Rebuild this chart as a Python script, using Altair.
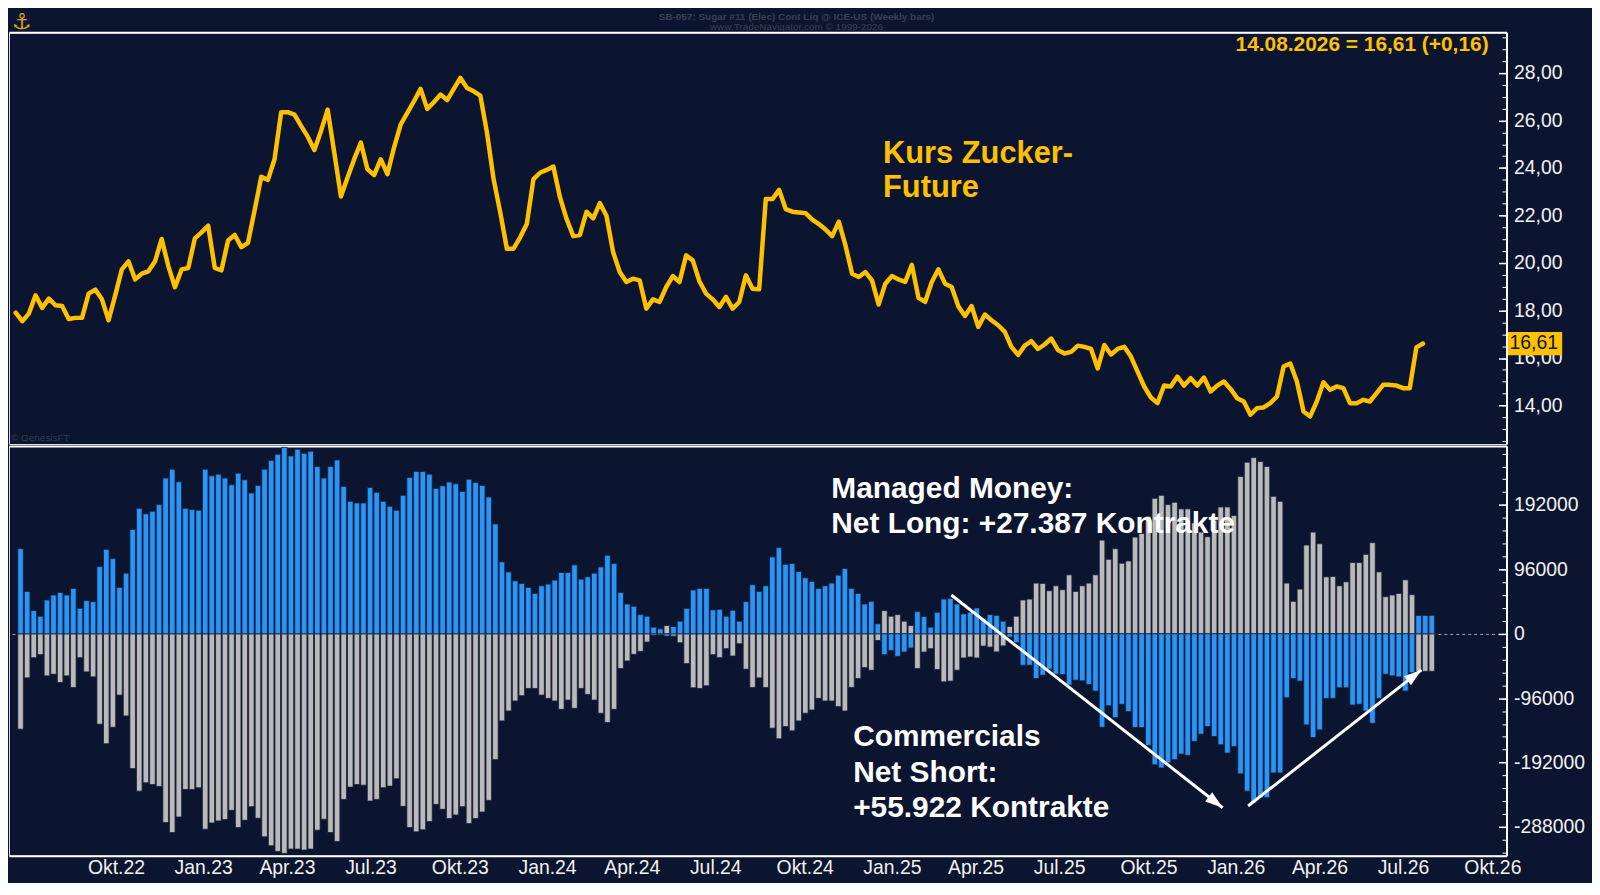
import altair as alt
import pandas as pd

# ---------------- data ----------------
price = [
    17.91, 17.55, 17.87, 18.64, 18.11, 18.50, 18.22, 18.19, 17.64, 17.69,
    17.69, 18.71, 18.88, 18.47, 17.59, 18.64, 19.73, 20.07, 19.31, 19.55,
    19.65, 20.07, 21.01, 19.87, 18.98, 19.73, 19.79, 21.04, 21.29, 21.57,
    19.79, 19.69, 20.95, 21.18, 20.67, 20.85, 22.22, 23.63, 23.50, 24.37,
    26.35, 26.35, 26.25, 25.77, 25.32, 24.76, 25.56, 26.46, 24.65, 22.80,
    23.60, 24.37, 25.07, 23.95, 23.70, 24.37, 23.74, 24.86, 25.83, 26.32,
    26.81, 27.33, 26.49, 26.77, 27.09, 26.86, 27.33, 27.79, 27.37, 27.23,
    27.05, 25.49, 23.53, 22.13, 20.60, 20.60, 21.08, 21.64, 23.53, 23.80,
    23.92, 24.06, 22.76, 21.85, 21.13, 21.18, 22.16, 21.88, 22.52, 21.99,
    20.46, 19.62, 19.20, 19.34, 19.27, 18.08, 18.47, 18.36, 18.99, 19.45,
    19.20, 20.32, 20.11, 19.23, 18.71, 18.47, 18.15, 18.57, 18.08, 18.36,
    19.48, 18.92, 18.89, 22.69, 22.69, 23.08, 22.27, 22.16, 22.13, 22.10,
    21.83, 21.64, 21.41, 21.13, 21.74, 20.74, 19.55, 19.41, 19.62, 19.27,
    18.25, 19.13, 19.45, 19.31, 19.20, 19.92, 18.53, 18.36, 19.20, 19.73,
    19.13, 18.99, 18.18, 17.77, 18.19, 17.31, 17.83, 17.59, 17.38, 17.10,
    16.47, 16.13, 16.52, 16.71, 16.38, 16.57, 16.82, 16.34, 16.19, 16.26,
    16.52, 16.47, 16.38, 15.56, 16.55, 16.15, 16.38, 16.47, 16.06, 15.43,
    14.80, 14.34, 14.10, 14.84, 14.80, 15.22, 14.84, 15.15, 14.84, 15.18,
    14.59, 14.84, 15.01, 14.70, 14.31, 14.17, 13.61, 13.89, 13.92, 14.10,
    14.38, 15.64, 15.77, 15.01, 13.75, 13.54, 14.17, 14.98, 14.66, 14.80,
    14.73, 14.10, 14.10, 14.24, 14.17, 14.52, 14.87, 14.87, 14.84, 14.73,
    14.73, 16.45, 16.61,
]

managed_money = [
    126900, 63200, 34600, 26200, 50400, 57800, 61700, 57800, 67700, 38000,
    49400, 47900, 100200, 125900, 112100, 69100, 90400, 155500, 187200, 178800,
    182700, 192600, 232100, 245400, 226700, 187200, 185200, 184200, 245400, 235500,
    238000, 232100, 222200, 239500, 229600, 209900, 221200, 245400, 258300, 267600,
    278000, 265200, 275000, 269100, 272100, 249400, 232100, 249400, 259200, 219700,
    197500, 195100, 195100, 218300, 210900, 197500, 190100, 184200, 206400, 233100,
    242000, 242000, 238000, 216800, 220700, 226200, 223700, 212300, 230600, 225700,
    221200, 203900, 163900, 107200, 92300, 79000, 75100,
    69100, 60200, 71600, 74100, 80000, 91400, 91400, 102700, 81500, 84900,
    90400, 99700, 117000, 104700, 61700, 44400, 41000, 28600, 26200, 9900,
    7400, -3500, 10900, 18800, 38000, 65200, 67700, 67700, 35600, 36500,
    26200, 35100, 18800, 47900, 73100, 63200, 71600, 114600, 128400, 103700,
    104700, 92800, 83500, 78000, 67700, 71600, 75600, 87400, 97300, 67700,
    60200, 44400, 48400, 14800, -31100, -24700, -33600, -27200, -21200, 33100,
    25700, 9900, 32100, 51800, 52800, 44400, 29600, 32100, 38500, 23200,
    28600, 27500, 18800,
    -4900, -13300, -46900, -46900, -66700, -61700, -52800, -60200, -60700, -76500,
    -69100, -70100, -75600, -85400, -139300, -107200, -125000, -105200, -116000, -139700,
    -139700, -166400, -195100, -200000, -192600, -187600, -179300, -181200, -160400, -149600,
    -138300, -153100, -165400, -177800, -167900, -208800, -234600, -251900, -244400, -244400,
    -207400, -207400, -95300, -66700, -70600, -135800, -154600, -143200, -96300, -96300,
    -80500, -80500, -106200, -105200, -115100, -133300, -96300, -60200, -62700, -64200,
    -85400, -58000, 27387, 27387, 27387,
]

commercials = [
    -142200, -65700, -35600, -31100, -62700, -60200, -72600, -62700, -80000, -35600,
    -56800, -64200, -134800, -163900, -139300, -91400, -122500, -201000, -234600, -222200,
    -224700, -227600, -281500, -296300, -273100, -232100, -232100, -229600, -291300, -282000,
    -279000, -277000, -263200, -288900, -278000, -257800, -275000, -302700, -316000, -324400,
    -327400, -321000, -321000, -322500, -321000, -292800, -276500, -296300, -309600, -246900,
    -228600, -224700, -225700, -249400, -246900, -229600, -227100, -216300, -257300, -288900,
    -295300, -292300, -280000, -254300, -261700, -275500, -270100, -257800, -283000, -275500,
    -265700, -248400, -187600, -129900, -115100, -100200, -92300,
    -81500, -81500, -91400, -96300, -100200, -112600, -98800, -111100, -81500, -90400,
    -98800, -118500, -132300, -112600, -51800, -40500, -30600, -26200, -12300, -2000,
    -1500, 12300, -3500, -13300, -44400, -80500, -81500, -77500, -31100, -35600,
    -22200, -33100, -14800, -52800, -80000, -65700, -80000, -140700, -156500, -138300,
    -144700, -129900, -118500, -113600, -96300, -100200, -100200, -108600, -115100, -80000,
    -66700, -50400, -54300, -9900, 34600, 26200, 28600, 18800, 12300, -51800,
    -27200, -22200, -53300, -71600, -70600, -54300, -36000, -34600, -36000, -18300,
    -19800, -27000, -18000,
    10900, 26200, 50400, 51800, 75600, 75100, 64200, 71600, 65700, 87900,
    63200, 71600, 75600, 87900, 139700, 111100, 126900, 105200, 108600, 144200,
    149600, 175300, 202000, 206400, 192600, 196000, 186200, 186200, 165400, 151600,
    144700, 169400, 189100, 189100, 176300, 234600, 255800, 262700, 256800, 249400,
    204900, 197500, 75600, 48400, 66700, 132300, 151600, 134300, 84900, 85400,
    71600, 77500, 106200, 106200, 118500, 135800, 92300, 55300, 57800, 60200,
    80500, 58300, -55922, -55922, -55922,
]

first_week = "2022-07-22"
price_dates = pd.date_range(first_week, periods=len(price), freq="7D")
cot_dates = pd.date_range(first_week, periods=len(managed_money), freq="7D")

# arrow annotations (start / end in data space)
arrow_ids = ["down", "down", "up", "up"]
arrow_dates = ["2025-04-05", "2026-01-18", "2026-02-14", "2026-08-17"]
arrow_values = [57800, -259300, -256700, -53800]

price_df = pd.DataFrame({"date": price_dates, "price": price})
cot_df = pd.DataFrame({"date": cot_dates, "mm": managed_money, "comm": commercials})
last_df = price_df.tail(1).copy()
arrow_df = pd.DataFrame({"arrow": arrow_ids, "date": pd.to_datetime(arrow_dates), "v": arrow_values})
one = pd.DataFrame({"k": [0]})

last_p = price[-1]
chg = price[-1] - price[-2]
headline = f"{price_dates[-1]:%d.%m.%Y} = " + f"{last_p:.2f}".replace(".", ",") + " (+" + f"{chg:.2f}".replace(".", ",") + ")"

# ---------------- style ----------------
BG = "#0c1530"
ORANGE = "#ffc000"
BLUE = "#2a95f8"
GRAY = "#bababa"
FONT = "Liberation Sans"
LBL = "#f2f2f2"
TITLE_C = "#3a4050"
W, H1, H2 = 1506, 414, 412

xscale = alt.Scale(domain=[alt.DateTime(year=2022, month=7, date=15),
                           alt.DateTime(year=2026, month=11, date=10)])
quarter_ticks = [alt.DateTime(year=y, month=m, date=1)
                 for y in range(2022, 2027) for m in (1, 4, 7, 10)
                 if (y, m) >= (2022, 10)]
month_expr = ("['Jan','Feb','Mär','Apr','Mai','Jun','Jul','Aug','Sep','Okt','Nov','Dez']"
              "[month(datum.value)] + '.' + timeFormat(datum.value, '%y')")

price_scale = alt.Scale(domain=[12.38, 29.71], zero=False, nice=False)
p_major = [14, 16, 18, 20, 22, 24, 26, 28]
p_minor = [12.5 + 0.5 * i for i in range(35)]

cot_scale = alt.Scale(domain=[-330800, 280000], nice=False)
c_major = [-288000, -192000, -96000, 0, 96000, 192000]
c_minor = [-326400 + 19200 * i for i in range(32)]

top_x_axis = alt.Axis(orient="top", labels=False, ticks=False, grid=False,
                      domainColor="white", domainWidth=2, title=None)

# ---------------- top panel: price ----------------
line = alt.Chart(price_df).mark_line(color=ORANGE, strokeWidth=4.5,
                                     strokeJoin="round", strokeCap="round").encode(
    x=alt.X("date:T", scale=xscale, axis=top_x_axis),
    y=alt.Y("price:Q", scale=price_scale, axis=alt.Axis(
        orient="right", values=p_major, title=None, grid=False,
        labelExpr="replace(format(datum.value, '.2f'), '.', ',')",
        tickSize={"expr": "-8"}, tickColor="white", tickWidth=1.5,
        labelPadding=15, labelColor=LBL, labelFontSize=19.5, labelFont=FONT,
        domainColor="white", domainWidth=2)),
)

box = alt.Chart(last_df).transform_calculate(
    lo="datum.price - 0.49", hi="datum.price + 0.49"
).mark_rect(color=ORANGE).encode(
    x=alt.value(W + 1.5), x2=alt.value(W + 56),
    y=alt.Y("lo:Q", scale=price_scale, axis=alt.Axis(
        orient="right", values=p_minor, labels=False, domain=False, grid=False,
        tickSize={"expr": "-4.5"}, tickColor="white", tickWidth=1, title=None)),
    y2="hi:Q",
)

box_text = alt.Chart(last_df).transform_calculate(
    lab="replace(format(datum.price, '.2f'), '.', ',')"
).mark_text(align="left", baseline="middle", fontSize=19.5, font=FONT, color=BG).encode(
    x=alt.value(W + 3),
    y=alt.Y("price:Q", scale=price_scale, axis=None),
    text="lab:N",
)

head_text = alt.Chart(one).mark_text(align="right", baseline="alphabetic", fontSize=21,
                                     fontWeight="bold", font=FONT, color=ORANGE).encode(
    x=alt.value(W - 18), y=alt.value(19), text=alt.value(headline))

kurs_text = alt.Chart(one).mark_text(align="left", baseline="alphabetic", fontSize=31,
                                     fontWeight="bold", font=FONT, color=ORANGE,
                                     lineHeight=35).encode(
    x=alt.value(879), y=alt.value(131), text=alt.value(["Kurs Zucker-", "Future"]))

title1 = alt.Chart(one).mark_text(align="center", baseline="alphabetic", fontSize=10,
                                  fontWeight="bold", font=FONT, color=TITLE_C).encode(
    x=alt.value(792), y=alt.value(-12),
    text=alt.value("SB-057:  Sugar #11 (Elec) Cont Liq @ ICE-US  (Weekly bars)"))

title2 = alt.Chart(one).mark_text(align="center", baseline="alphabetic", fontSize=10,
                                  font=FONT, color=TITLE_C).encode(
    x=alt.value(792), y=alt.value(-2),
    text=alt.value("www.TradeNavigator.com © 1999-2026"))

logo = alt.Chart(one).mark_text(align="center", baseline="middle", fontSize=22,
                                fontWeight="bold", font="DejaVu Sans",
                                color="#d9a514").encode(
    x=alt.value(13), y=alt.value(-10), text=alt.value("⚓"))

genesis = alt.Chart(one).mark_text(align="left", baseline="alphabetic", fontSize=10,
                                   font=FONT, color="#343b4c").encode(
    x=alt.value(2), y=alt.value(H1 - 3), text=alt.value("© GenesisFT"))

top = alt.layer(line, box, box_text, head_text, kurs_text, title1, title2, logo,
                genesis).resolve_axis(y="independent").properties(width=W, height=H1)

# ---------------- bottom panel: COT ----------------
bar_style = dict(size=5.6, stroke="#172038", strokeWidth=0.8)

gray_bars = alt.Chart(cot_df).mark_bar(color=GRAY, **bar_style).encode(
    x=alt.X("date:T", scale=xscale, axis=top_x_axis),
    y=alt.Y("comm:Q", scale=cot_scale, axis=alt.Axis(
        orient="right", values=c_minor, labels=False, domain=False, grid=False,
        tickSize={"expr": "-4.5"}, tickColor="white", tickWidth=1, title=None)),
)

blue_bars = alt.Chart(cot_df).mark_bar(color=BLUE, **bar_style).encode(
    x=alt.X("date:T", scale=xscale, axis=alt.Axis(
        orient="bottom", values=quarter_ticks, labelExpr=month_expr,
        labelAlign="left", labelFlush=False, labelOverlap=False, ticks=False,
        grid=False, domainColor="white", domainWidth=2, labelColor=LBL,
        labelFontSize=19.5, labelFont=FONT, labelPadding=3, title=None)),
    y=alt.Y("mm:Q", scale=cot_scale, axis=alt.Axis(
        orient="right", values=c_major, labelExpr="'' + datum.value", title=None,
        tickSize={"expr": "-8"}, tickColor="white", tickWidth=1.5,
        labelPadding=15, labelColor=LBL, labelFontSize=19.5, labelFont=FONT,
        domainColor="white", domainWidth=2,
        grid=True, gridColor="#a4a8b0", gridDash=[3, 3], gridWidth=1,
        gridOpacity={"condition": {"test": "datum.value === 0", "value": 1}, "value": 0})),
)

arrow_lines = alt.Chart(arrow_df).mark_line(color="white", strokeWidth=3).encode(
    x=alt.X("date:T", scale=xscale, axis=None),
    y=alt.Y("v:Q", scale=cot_scale, axis=None),
    detail="arrow:N",
)

head_shape = "M0,0L-0.75,2.3L0.75,2.3Z"
head_down = alt.Chart(arrow_df.iloc[[1]]).mark_point(
    shape=head_shape, filled=True, color="white", opacity=1, size=240, angle=127.7).encode(
    x=alt.X("date:T", scale=xscale, axis=None),
    y=alt.Y("v:Q", scale=cot_scale, axis=None))
head_up = alt.Chart(arrow_df.iloc[[3]]).mark_point(
    shape=head_shape, filled=True, color="white", opacity=1, size=240, angle=52.2).encode(
    x=alt.X("date:T", scale=xscale, axis=None),
    y=alt.Y("v:Q", scale=cot_scale, axis=None))

mm_text = alt.Chart(one).mark_text(align="left", baseline="alphabetic", fontSize=30,
                                   fontWeight="bold", font=FONT, color="white",
                                   lineHeight=35).encode(
    x=alt.value(827), y=alt.value(52),
    text=alt.value(["Managed Money:", "Net Long: +27.387 Kontrakte"]))

comm_text = alt.Chart(one).mark_text(align="left", baseline="alphabetic", fontSize=30,
                                     fontWeight="bold", font=FONT, color="white",
                                     lineHeight=35.5).encode(
    x=alt.value(849), y=alt.value(302),
    text=alt.value(["Commercials", "Net Short:", "+55.922 Kontrakte"]))

bottom = alt.layer(gray_bars, blue_bars, arrow_lines, head_down, head_up,
                   mm_text, comm_text).resolve_axis(
    x="independent", y="independent").properties(width=W, height=H2)

chart = alt.vconcat(top, bottom, spacing=0).properties(
    background=BG,
    padding={"left": 0, "top": 0, "right": 6, "bottom": 3},
).configure_view(stroke="transparent").configure(font=FONT)

chart.save("out.html", embed_options={"renderer": "svg", "actions": False})
